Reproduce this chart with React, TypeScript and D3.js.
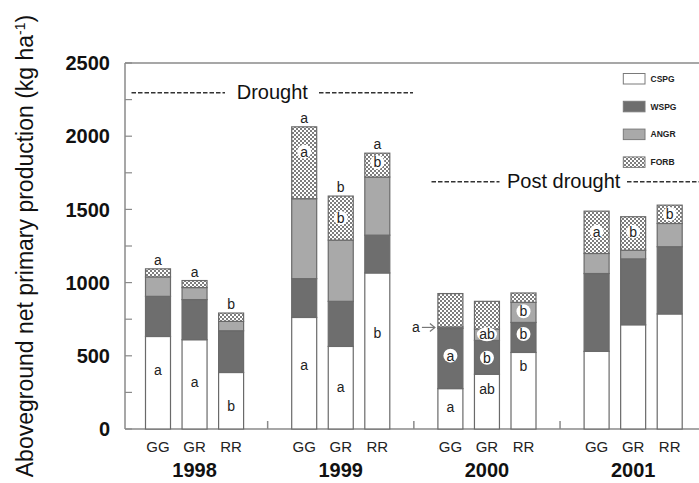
import React from "react";
import * as d3 from "d3";

const years = ["1998", "1999", "2000", "2001"];
const treatments = ["GG", "GR", "RR"];
const seriesNames = ["CSPG", "WSPG", "ANGR", "FORB"];
// order: 1998 GG,GR,RR, 1999 GG,GR,RR, 2000 ..., 2001 ...
const cspg = [632, 610, 386, 762, 564, 1066, 276, 374, 523, 530, 712, 786];
const wspg = [274, 274, 285, 265, 308, 258, 411, 231, 205, 532, 450, 459];
const angr = [133, 82, 64, 546, 418, 397, 10, 78, 137, 137, 59, 159];
const forb = [55, 48, 57, 491, 301, 163, 228, 189, 64, 289, 229, 125];
const yTicks = [0, 500, 1000, 1500, 2000, 2500];
const yMinorTicks = [250, 750, 1250, 1750, 2250];

const topLetters = ["a", "a", "b", "a", "b", "a", "", "", "", "", "", ""];
const baseLetters = ["a", "a", "b", "a", "a", "b", "a", "ab", "b", "", "", ""];
const baseLetterValues = [403, 323, 157, 437, 285, 658, 148, 271, 430, 0, 0, 0];
const circledBars = [3, 4, 5, 6, 7, 7, 8, 8, 9, 10, 11];
const circledValues = [1894, 1441, 1822, 501, 647, 487, 804, 649, 1348, 1348, 1469];
const circledText = ["a", "b", "b", "a", "ab", "b", "b", "b", "a", "b", "b"];

const W = 699;
const H = 483;
const x0 = 125;
const yScale = d3.scaleLinear().domain([0, 2500]).range([429, 63]);
const slotScale = d3.scaleLinear().domain([0, 15]).range([158, 158 + 15 * 36.55]);
const barW = 25;
const fills = ["#ffffff", "#6e6e6e", "#a9a9a9", "url(#forbPat)"];
const font = "Arial, 'Liberation Sans', sans-serif";

function slotOf(i: number) {
  return Math.floor(i / 3) * 4 + (i % 3);
}

export default function App() {
  const series = [cspg, wspg, angr, forb];
  const stackData = cspg.map((_, i) => ({ CSPG: cspg[i], WSPG: wspg[i], ANGR: angr[i], FORB: forb[i] }));
  const stacked = d3.stack<any>().keys(seriesNames)(stackData);
  const totals = cspg.map((_, i) => series.reduce((s, a) => s + a[i], 0));
  const dashY1 = 92.7;
  const dashY2 = 181.7;
  return (
    <svg width={W} height={H} style={{ display: "block", position: "absolute", left: 0, top: 0 }} fontFamily={font}>
      <defs>
        <pattern id="forbPat" width="4" height="4" patternUnits="userSpaceOnUse">
          <rect width="4" height="4" fill="#ffffff" />
          <rect x="0" y="0" width="2" height="2" fill="#7d7d7d" />
          <rect x="2" y="2" width="2" height="2" fill="#7d7d7d" />
        </pattern>
      </defs>
      <rect width={W} height={H} fill="#fff" />
      {/* frame */}
      <line x1={x0} x2={W} y1={63} y2={63} stroke="#8a8a8a" strokeWidth={1.5} />
      <line x1={x0} x2={x0} y1={63} y2={429} stroke="#8a8a8a" strokeWidth={1.5} />
      <line x1={x0} x2={W} y1={429} y2={429} stroke="#8a8a8a" strokeWidth={1.5} />
      {yTicks.concat(yMinorTicks).map((t) => (
        <line key={"yt" + t} x1={x0} x2={x0 + 7} y1={yScale(t)} y2={yScale(t)} stroke="#8a8a8a" strokeWidth={1.2} />
      ))}
      {yTicks.map((t) => (
        <text key={"yl" + t} x={110} y={yScale(t)} dy="0.36em" textAnchor="end" fontSize={20} fontWeight="bold" fill="#111">
          {t}
        </text>
      ))}
      {[3, 7, 11].map((s) => (
        <line key={"xt" + s} x1={slotScale(s)} x2={slotScale(s)} y1={429} y2={421} stroke="#8a8a8a" strokeWidth={1.5} />
      ))}
      {/* bars */}
      {stacked.map((layer, k) => (
        <g key={layer.key}>
          {layer.map((d, i) => {
            const cx = slotScale(slotOf(i));
            return (
              <rect
                key={i}
                x={cx - barW / 2}
                y={yScale(d[1])}
                width={barW}
                height={yScale(d[0]) - yScale(d[1])}
                fill={fills[k]}
                stroke="#6a6a6a"
                strokeWidth={1.2}
              />
            );
          })}
        </g>
      ))}
      {/* letters */}
      {topLetters.map((l, i) =>
        l ? (
          <text key={"tl" + i} x={slotScale(slotOf(i))} y={yScale(totals[i]) - 4} textAnchor="middle" fontSize={14} fill="#222">
            {l}
          </text>
        ) : null
      )}
      {baseLetters.map((l, i) =>
        l ? (
          <text key={"bl" + i} x={slotScale(slotOf(i))} y={yScale(baseLetterValues[i])} dy="0.36em" textAnchor="middle" fontSize={14} fill="#222">
            {l}
          </text>
        ) : null
      )}
      {circledBars.map((b, j) => {
        const cx = slotScale(slotOf(b));
        const cy = yScale(circledValues[j]);
        const wide = circledText[j].length > 1;
        return (
          <g key={"c" + j}>
            <ellipse cx={cx} cy={cy} rx={wide ? 10 : 7} ry={7} fill="#fff" />
            <text x={cx} y={cy} dy="0.36em" textAnchor="middle" fontSize={14} fill="#222">
              {circledText[j]}
            </text>
          </g>
        );
      })}
      {/* arrow label for 2000 GG */}
      {(() => {
        const bx = slotScale(slotOf(6)) - barW / 2;
        const ay = yScale(cspg[6] + wspg[6]) - 1;
        return (
          <g>
            <text x={bx - 22} y={ay} dy="0.36em" textAnchor="middle" fontSize={14} fill="#222">
              a
            </text>
            <line x1={bx - 16} x2={bx - 3} y1={ay} y2={ay} stroke="#777" strokeWidth={1.2} />
            <polyline points={`${bx - 8},${ay - 4} ${bx - 3},${ay} ${bx - 8},${ay + 4}`} fill="none" stroke="#777" strokeWidth={1.2} />
          </g>
        );
      })()}
      {/* drought annotations */}
      <line x1={131.5} x2={225} y1={dashY1} y2={dashY1} stroke="#333" strokeWidth={1.6} strokeDasharray="4.5,2" />
      <text x={236.7} y={dashY1 + 6} fontSize={20} fill="#111">Drought</text>
      <line x1={319} x2={413} y1={dashY1} y2={dashY1} stroke="#333" strokeWidth={1.6} strokeDasharray="4.5,2" />
      <line x1={431.5} x2={499.5} y1={dashY2} y2={dashY2} stroke="#333" strokeWidth={1.6} strokeDasharray="4.5,2" />
      <text x={507} y={dashY2 + 6} fontSize={20} fill="#111">Post drought</text>
      <line x1={627} x2={W} y1={dashY2} y2={dashY2} stroke="#333" strokeWidth={1.6} strokeDasharray="4.5,2" />
      {/* legend */}
      {seriesNames.map((n, k) => {
        const ly = 73.5 + k * 27.8;
        return (
          <g key={n}>
            <rect x={623.3} y={ly} width={21.7} height={10.5} fill={fills[k]} stroke="#7a7a7a" strokeWidth={1} />
            <text x={650.5} y={ly + 5.25} dy="0.36em" fontSize={8.5} fontWeight="bold" fill="#222">
              {n}
            </text>
          </g>
        );
      })}
      {/* x labels */}
      {cspg.map((_, i) => (
        <text key={"xl" + i} x={slotScale(slotOf(i))} y={447} dy="0.36em" textAnchor="middle" fontSize={15} fill="#222">
          {treatments[i % 3]}
        </text>
      ))}
      {years.map((yr, j) => (
        <text key={yr} x={slotScale(j * 4 + 1)} y={470} dy="0.36em" textAnchor="middle" fontSize={20} fontWeight="bold" fill="#111">
          {yr}
        </text>
      ))}
      {/* y label */}
      <text transform="translate(33,246) rotate(-90)" textAnchor="middle" fontSize={23} fill="#111">
        Aboveground net primary production (kg ha
        <tspan dy={-8} fontSize={14}>-1</tspan>
        <tspan dy={8}>)</tspan>
      </text>
    </svg>
  );
}
